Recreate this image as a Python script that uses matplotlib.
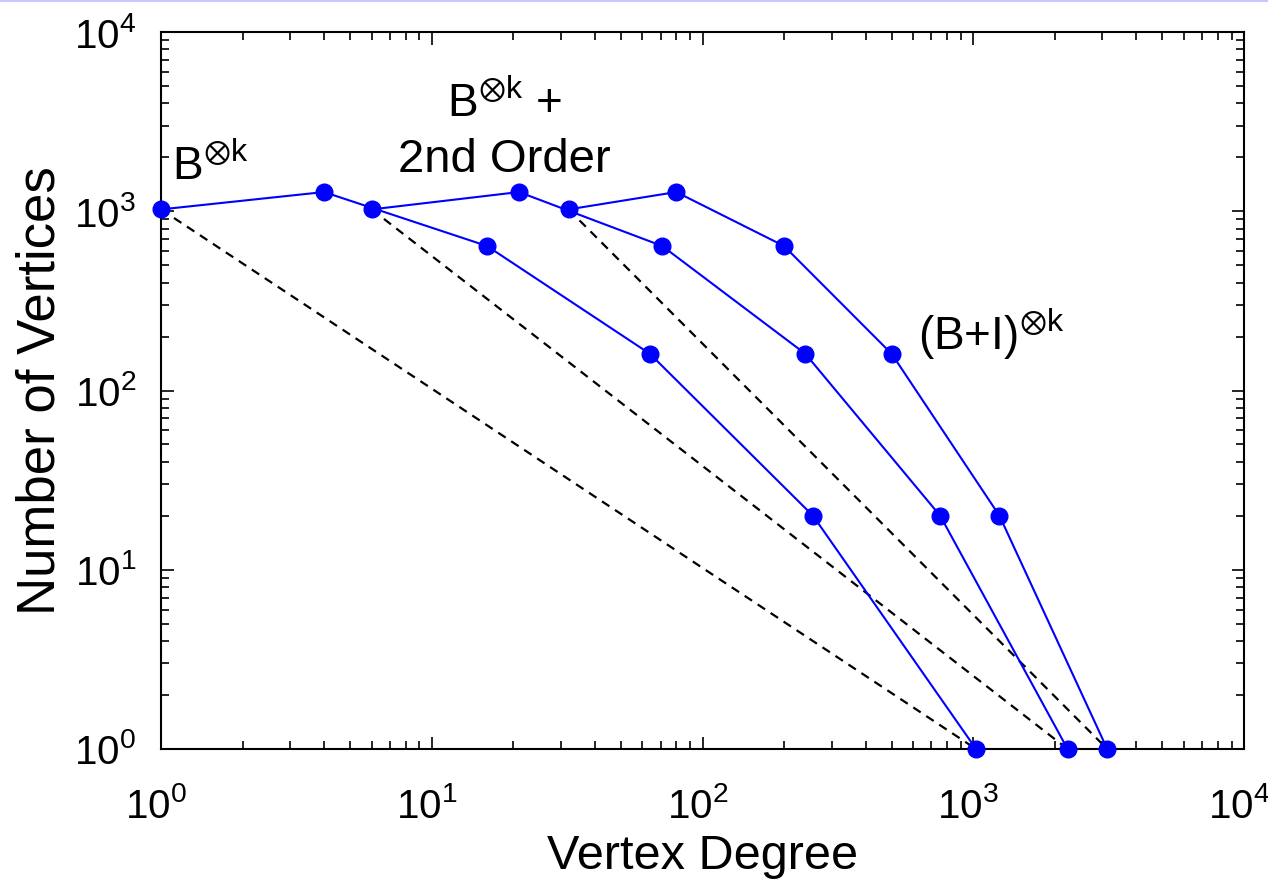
import matplotlib
matplotlib.use("Agg")
import matplotlib.pyplot as plt
from matplotlib.lines import Line2D
from matplotlib.transforms import ScaledTranslation

plt.rcParams['font.family'] = ['Liberation Sans', 'DejaVu Sans']
plt.rcParams['mathtext.fontset'] = 'custom'
plt.rcParams['mathtext.rm'] = 'Liberation Sans'
plt.rcParams['mathtext.it'] = 'Liberation Sans:italic'
plt.rcParams['mathtext.bf'] = 'Liberation Sans:bold'
plt.rcParams['mathtext.default'] = 'regular'

# Data
counts = [1024, 1280, 640, 160, 20, 1]
deg_kron = [1, 4, 16, 64, 256, 1024]
deg_second = [6, 21, 71, 240, 755, 2230]
deg_bi = [32, 80, 200, 500, 1250, 3125]

# dashed reference lines (start -> end of each series)
ref_x = [[1, 1024], [6, 2230], [32, 3125]]
ref_y = [[1024, 1], [1024, 1], [1024, 1]]

fig = plt.figure(figsize=(12.68, 8.81), dpi=100)
ax = fig.add_axes([161/1268, 1-749/881, (1244-161)/1268, (749-32)/881])

blue = '#0000ff'
for xs, ys in zip(ref_x, ref_y):
    ax.plot(xs, ys, ls=(0, (4, 3)), color='black', lw=1.6, zorder=2)
for d in (deg_kron, deg_second, deg_bi):
    ax.plot(d, counts, '-o', color=blue, lw=1.5, markersize=12, zorder=3, clip_on=False)

ax.set_xscale('log')
ax.set_yscale('log')
ax.set_xlim(1, 1e4)
ax.set_ylim(1, 1e4)

ax.tick_params(which='both', direction='in', top=True, right=True, labelsize=29, width=1.2)
ax.tick_params(which='major', length=9)
ax.tick_params(which='minor', length=6)
ax.tick_params(axis='x', which='major', pad=27)
ax.tick_params(axis='y', which='major', pad=18)
for s in ax.spines.values():
    s.set_linewidth(1.5)

fig.canvas.draw()
shift = ScaledTranslation(-5/100, 0, fig.dpi_scale_trans)
for lbl in ax.get_xticklabels():
    lbl.set_transform(lbl.get_transform() + shift)

ax.set_xlabel('Vertex Degree', fontsize=35, labelpad=6)
ax.set_ylabel('Number of Vertices', fontsize=38, labelpad=6)

ax.text(1.098, 1494, r'B$^{\otimes \mathrm{k}}$', fontsize=33, va='baseline', ha='left')
ax.text(18.6, 3357, r'B$^{\otimes \mathrm{k}}$ +', fontsize=33, va='baseline', ha='center')
ax.text(18.6, 1656, '2nd Order', fontsize=34, va='baseline', ha='center')
ax.text(625, 168, r'(B+I)$^{\otimes \mathrm{k}}$', fontsize=33, va='baseline', ha='left')

fig.add_artist(Line2D([0, 1], [0.999, 0.999], transform=fig.transFigure, color='#c8c8ff', lw=1.5))

fig.savefig('out.png', dpi=100)
